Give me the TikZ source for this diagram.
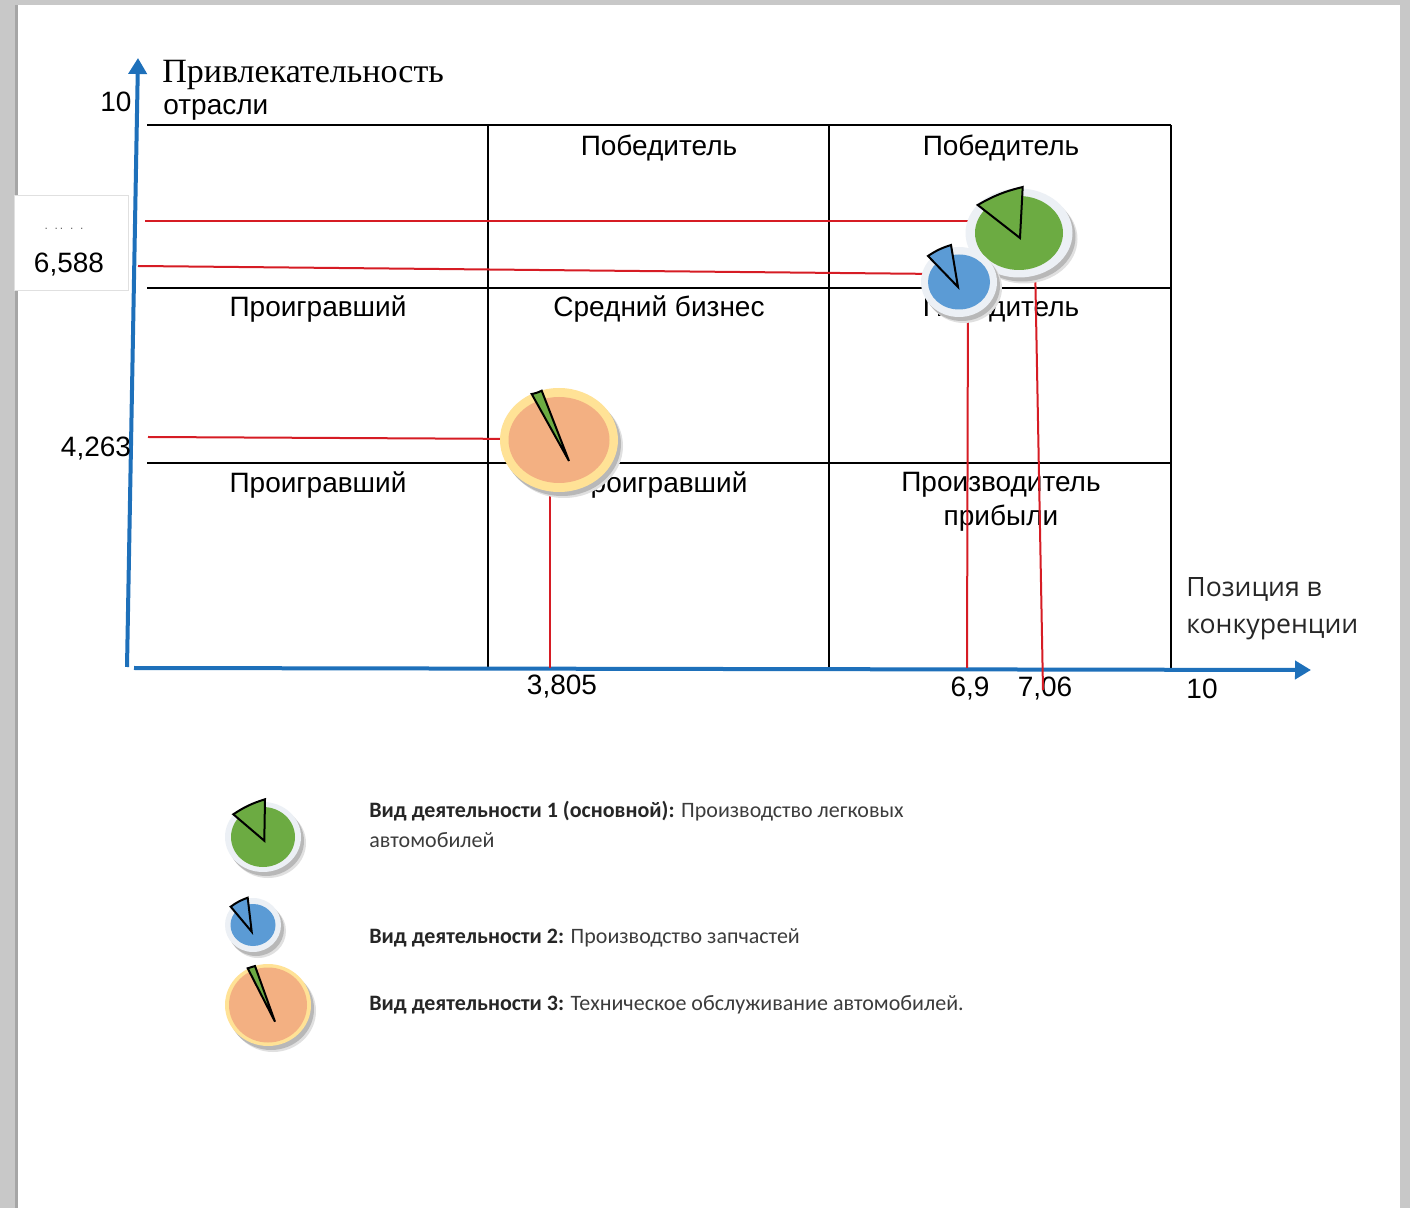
\documentclass[tikz,border=0pt]{standalone}
\usepackage{fontspec}
\setmainfont{Liberation Sans}
\newfontfamily\titlefont{Liberation Serif}
\newfontfamily\legendfont{Carlito}
\newfontfamily\axisfont{Open Sans}
\usetikzlibrary{arrows.meta, calc}

\definecolor{axisblue}{RGB}{30,112,186}
\definecolor{pagegray}{RGB}{200,200,200}
\definecolor{ringgray}{RGB}{236,240,245}
\definecolor{piegreen}{RGB}{108,171,66}
\definecolor{pieblue}{RGB}{91,155,213}
\definecolor{pieorange}{RGB}{243,176,130}
\definecolor{ringyellow}{RGB}{255,226,150}
\definecolor{legendtext}{RGB}{60,60,60}
\definecolor{linered}{RGB}{214,28,36}

% #1 centre, #2/#3 outer radii, #4/#5 inner radii, #6 ring colour, #7 disk colour
\newcommand{\bubble}[7]{%
  \fill[black!12] ($(#1)+(5,-6)$) ellipse [x radius=#2, y radius=#3];
  \fill[black!28] ($(#1)+(3,-4)$) ellipse [x radius=#2, y radius=#3];
  \fill[#6] (#1) ellipse [x radius=#2, y radius=#3];
  \fill[#7] (#1) ellipse [x radius=#4, y radius=#5];
}
% #1 apex, #2 first rim point, #3 second rim point, #4 colour
\newcommand{\slice}[4]{%
  \draw[black, line width=1pt, line join=miter, fill=#4] (#1) -- (#2) to[bend right=8] (#3) -- cycle;
}

\begin{document}
\begin{tikzpicture}[x=0.5pt, y=0.5pt,
    grid/.style={black, line width=0.7pt},
    axis/.style={axisblue, line width=2pt, -{Triangle[length=8pt, width=9pt]}},
    guide/.style={linered, line width=1pt},
    cell/.style={font=\fontsize{14}{17}\selectfont, inner sep=0pt},
    tick/.style={font=\fontsize{14}{17}\selectfont, inner sep=0pt},
    legend/.style={font=\legendfont\fontsize{11}{15}\selectfont, text=legendtext, anchor=west, inner sep=0pt}]
  \useasboundingbox (0,0) rectangle (1410,-1208);
  % page
  \fill[pagegray] (0,0) rectangle (1410,-1208);
  \fill[black!35] (15,-5) rectangle (19,-1208);
  \fill[white] (18,-5) rectangle (1400,-1208);

  % matrix
  \foreach \y/\w in {125/0.7, 288/0.7, 463/1.1}
    \draw[grid, line width=\w pt] (147,-\y) -- (1171,-\y);
  \foreach \x/\w in {488/1.1, 829/0.7, 1171/0.7}
    \draw[grid, line width=\w pt] (\x,-125) -- (\x,-668);

  \node[cell] (c12) at (659,-148) {Победитель};
  \node[cell] (c13) at (1001,-148) {Победитель};
  \node[cell] (c21) at (318,-309) {Проигравший};
  \node[cell] (c22) at (659,-309) {Средний бизнес};
  \node[cell] (c23) at (1001,-309) {Победитель};
  \node[cell] (c31) at (318,-485) {Проигравший};
  \node[cell] (c32) at (659,-485) {Проигравший};
  \node[cell, align=center] (c33) at (1001,-502) {Производитель\\прибыли};

  % value box
  \draw[black!12, fill=white] (14,-195) rectangle (128,-290);
  \node[text=black!60, font=\fontsize{6}{7}\selectfont] (dots) at (64,-229) {.\ \ .\,.\ \ .\ \ .};

  % axes
  \coordinate (o1) at (127,-667);
  \coordinate (ytop) at (138,-58);
  \coordinate (o2) at (134,-668);
  \coordinate (xend) at (1311,-670);
  \draw[axis] (o1) -- (ytop);
  \draw[axis] (o2) -- (xend);

  \node[anchor=west, inner sep=0pt, font=\titlefont\fontsize{17}{20}\selectfont] (ttl1) at (162,-75) {Привлекательность};
  \node[anchor=west, inner sep=0pt, font=\fontsize{14}{17}\selectfont] (ttl2) at (163,-110) {отрасли};
  \node[anchor=west, align=left, inner sep=0pt, text=black!85, font=\axisfont\fontsize{13.3}{18.5}\selectfont] (xlab) at (1186,-609) {Позиция в\\конкуренции};

  \node[tick] (y10) at (116,-102) {10};
  \node[tick] (yv1) at (69,-265) {6,588};
  \node[tick] (yv3) at (96,-449) {4,263};
  \node[tick] (xv3) at (562,-687) {3,805};
  \node[tick] (xv2) at (970,-689) {6,9};
  \node[tick] (xv1) at (1045,-689) {7,06};
  \node[tick] (x10) at (1202,-689) {10};

  % guide lines
  \coordinate (g1) at (145,-221);   \coordinate (g1e) at (1000,-221);
  \coordinate (g2) at (138,-266);   \coordinate (g2e) at (940,-274);
  \coordinate (g3) at (148,-437);   \coordinate (g3e) at (530,-439);
  \coordinate (v3) at (550,-668);   \coordinate (v3e) at (550,-470);
  \coordinate (v2) at (967,-668);   \coordinate (v2e) at (968,-290);
  \coordinate (v1) at (1043,-690);  \coordinate (v1e) at (1035,-260);
  \foreach \a/\b in {g1/g1e, g2/g2e, g3/g3e, v3/v3e, v2/v2e, v1/v1e}
    \draw[guide] (\a) -- (\b);

  % bubbles
  \coordinate (orange) at (559,-440);
  \bubble{orange}{59}{52}{50.5}{43}{ringyellow}{pieorange}
  \slice{569,-461}{531.7,-394}{541.7,-390.7}{piegreen}

  \coordinate (green) at (1019,-233);
  \bubble{green}{53.5}{44.5}{44}{37}{ringgray}{piegreen}
  \slice{1020,-238}{1022.7,-187}{977.7,-205}{piegreen}

  \coordinate (blue) at (959,-282);
  \bubble{blue}{38}{35}{31}{27.5}{ringgray}{pieblue}
  \slice{958,-287}{951,-245}{928,-256}{pieblue}

  % legend
  \coordinate (lg1) at (263,-837);
  \bubble{lg1}{38}{35}{32}{30}{ringgray}{piegreen}
  \slice{264.3,-840.7}{265,-799.3}{233.3,-814.3}{piegreen}
  \coordinate (lg2) at (253,-925);
  \bubble{lg2}{28}{27}{22.5}{21}{ringgray}{pieblue}
  \slice{251.7,-931.7}{247.7,-897.7}{230.7,-906.7}{pieblue}
  \coordinate (lg3) at (268,-1005);
  \bubble{lg3}{43}{41}{39}{37.5}{ringyellow}{pieorange}
  \slice{275,-1021.7}{247.7,-968.3}{255,-966}{piegreen}

  \node[legend] (t1) at (369,-811) {\textbf{\color{black!85}Вид деятельности 1 (основной):} Производство легковых};
  \node[legend] (t1b) at (369,-840) {автомобилей};
  \node[legend] (t2) at (369,-938) {\textbf{\color{black!85}Вид деятельности 2:} Производство запчастей};
  \node[legend] (t3) at (369,-1005) {\textbf{\color{black!85}Вид деятельности 3:} Техническое обслуживание автомобилей.};
\end{tikzpicture}
\end{document}
